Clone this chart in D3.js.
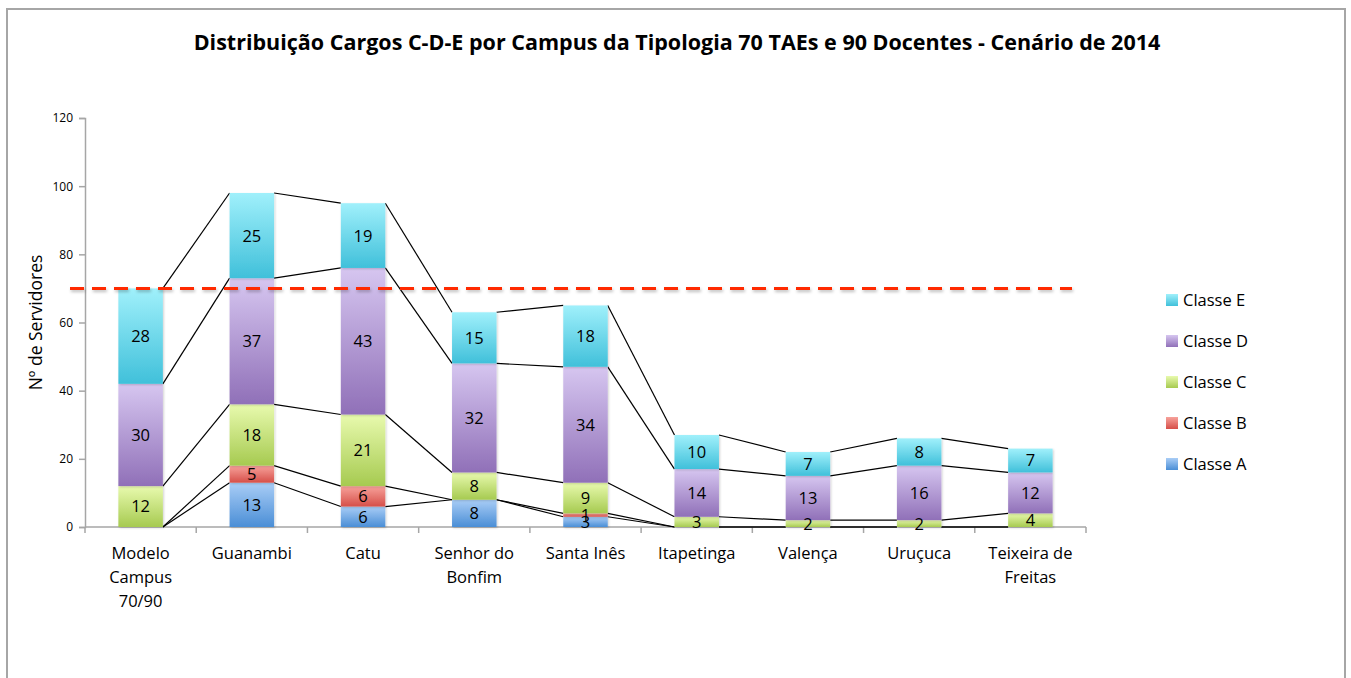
<!DOCTYPE html>
<html>
<head>
<meta charset="utf-8">
<script src="https://cdn.jsdelivr.net/npm/d3@7"></script>
<style>
  body { margin: 0; background: #fff; }
  svg { display: block; font-family: "Open Sans", sans-serif; }
</style>
</head>
<body>
<svg id="chart" width="1351" height="678"></svg>
<script>
const campus = ['Modelo Campus 70/90', 'Guanambi', 'Catu', 'Senhor do Bonfim', 'Santa Inês',
  'Itapetinga', 'Valença', 'Uruçuca', 'Teixeira de Freitas'];
const tickLines = [['Modelo', 'Campus', '70/90'], ['Guanambi'], ['Catu'], ['Senhor do', 'Bonfim'],
  ['Santa Inês'], ['Itapetinga'], ['Valença'], ['Uruçuca'], ['Teixeira de', 'Freitas']];

const seriesNames = ['Classe A', 'Classe B', 'Classe C', 'Classe D', 'Classe E'];
// null = empty cell (no label)
const classeA = [null, 13, 6, 8, 3, null, null, null, null];
const classeB = [null, 5, 6, null, 1, null, null, null, null];
const classeC = [12, 18, 21, 8, 9, 3, 2, 2, 4];
const classeD = [30, 37, 43, 32, 34, 14, 13, 16, 12];
const classeE = [28, 25, 19, 15, 18, 10, 7, 8, 7];
const yTicks = [0, 20, 40, 60, 80, 100, 120];
const referencia = 70;

const colors = {
  'Classe A': ['#a9cdf6', '#4a8ed6'],
  'Classe B': ['#f7a29b', '#d64f49'],
  'Classe C': ['#e8faae', '#a6ca50'],
  'Classe D': ['#d6c6f0', '#9070b8'],
  'Classe E': ['#a0f0fb', '#40c0da']
};

const svg = d3.select('#chart');
const margin = { left: 85, right: 265, top: 118, bottom: 151 };
const W = 1351, H = 678;

// frame
svg.append('path')
  .attr('d', `M7,${H} V9 H1345 V${H}`)
  .attr('fill', 'none')
  .attr('stroke', '#a6a6a6')
  .attr('stroke-width', 2);

svg.append('text')
  .attr('x', 677)
  .attr('y', 50)
  .attr('text-anchor', 'middle')
  .attr('font-weight', 'bold')
  .attr('font-size', 21.5)
  .attr('fill', '#000')
  .text('Distribuição Cargos C-D-E por Campus da Tipologia 70 TAEs e 90 Docentes - Cenário de 2014');

const x = d3.scaleBand()
  .domain(campus)
  .range([margin.left, W - margin.right])
  .paddingInner(0.6)
  .paddingOuter(0.3);

const y = d3.scaleLinear()
  .domain([0, 120])
  .range([H - margin.bottom, margin.top]);

const defs = svg.append('defs');
seriesNames.forEach((s, i) => {
  const g = defs.append('linearGradient')
    .attr('id', 'grad' + i)
    .attr('x1', 0).attr('y1', 0).attr('x2', 0).attr('y2', 1);
  g.append('stop').attr('offset', '0%').attr('stop-color', colors[s][0]);
  g.append('stop').attr('offset', '100%').attr('stop-color', colors[s][1]);
});
const shadow = defs.append('filter').attr('id', 'shadow')
  .attr('x', '-20%').attr('y', '-20%').attr('width', '140%').attr('height', '140%');
shadow.append('feDropShadow')
  .attr('dx', 1).attr('dy', 1).attr('stdDeviation', 1.2)
  .attr('flood-color', '#000').attr('flood-opacity', 0.18);
const lineShadow = defs.append('filter').attr('id', 'lineShadow')
  .attr('filterUnits', 'userSpaceOnUse')
  .attr('x', 0).attr('y', 0).attr('width', W).attr('height', H);
lineShadow.append('feDropShadow')
  .attr('dx', 1).attr('dy', 2).attr('stdDeviation', 1.5)
  .attr('flood-color', '#000').attr('flood-opacity', 0.25);

// axes
const yAxis = svg.append('g')
  .attr('transform', `translate(${margin.left},0)`)
  .call(d3.axisLeft(y).tickValues(yTicks).tickSize(6).tickPadding(6));
yAxis.select('.domain').attr('stroke', '#a6a6a6').attr('stroke-width', 1.5);
yAxis.selectAll('.tick line').attr('stroke', '#a6a6a6').attr('stroke-width', 1.5);
yAxis.selectAll('.tick text')
  .attr('font-size', 12).attr('fill', '#000')
  .attr('font-family', '"Open Sans", sans-serif');

const xAxisG = svg.append('g').attr('transform', `translate(0,${y(0)})`);
xAxisG.append('line')
  .attr('x1', margin.left).attr('x2', W - margin.right)
  .attr('stroke', '#a6a6a6').attr('stroke-width', 1.5);
const step = x.step();
xAxisG.selectAll('.xt')
  .data(d3.range(campus.length + 1))
  .join('line')
  .attr('x1', i => margin.left + i * step)
  .attr('x2', i => margin.left + i * step)
  .attr('y1', 0).attr('y2', 6)
  .attr('stroke', '#a6a6a6').attr('stroke-width', 1.5);
xAxisG.selectAll('.xl')
  .data(campus)
  .join('text')
  .attr('text-anchor', 'middle')
  .attr('font-size', 16.5)
  .attr('fill', '#000')
  .each(function (d, i) {
    const t = d3.select(this);
    tickLines[i].forEach((ln, k) => {
      t.append('tspan')
        .attr('x', x(d) + x.bandwidth() / 2)
        .attr('y', 32 + k * 24)
        .text(ln);
    });
  });

svg.append('text')
  .attr('transform', `translate(42,${y(60)}) rotate(-90)`)
  .attr('text-anchor', 'middle')
  .attr('font-size', 17.5)
  .attr('fill', '#000')
  .text('Nº de Servidores');

// stacks
const values = [classeA, classeB, classeC, classeD, classeE];
const table = campus.map((c, i) => {
  const row = { campus: c };
  seriesNames.forEach((s, k) => { row[s] = values[k][i] || 0; });
  return row;
});
const stacked = d3.stack().keys(seriesNames)(table);

// series lines
const lineG = svg.append('g');
stacked.forEach(layer => {
  for (let i = 0; i < layer.length - 1; i++) {
    lineG.append('line')
      .attr('x1', x(campus[i]) + x.bandwidth())
      .attr('y1', y(layer[i][1]))
      .attr('x2', x(campus[i + 1]))
      .attr('y2', y(layer[i + 1][1]))
      .attr('stroke', '#000')
      .attr('stroke-width', 1.2);
  }
});

const barsG = svg.append('g');
stacked.forEach((layer, k) => {
  barsG.append('g')
    .attr('fill', `url(#grad${k})`)
    .attr('filter', 'url(#shadow)')
    .selectAll('rect')
    .data(layer.filter(d => d[1] > d[0]))
    .join('rect')
    .attr('x', d => x(d.data.campus))
    .attr('y', d => y(d[1]))
    .attr('width', x.bandwidth())
    .attr('height', d => y(d[0]) - y(d[1]));
});

// reference line
svg.append('line')
  .attr('x1', margin.left - 15)
  .attr('x2', W - margin.right - 14)
  .attr('y1', y(referencia))
  .attr('y2', y(referencia))
  .attr('stroke', '#ff2a00')
  .attr('stroke-width', 3)
  .attr('stroke-dasharray', '14,8')
  .attr('filter', 'url(#lineShadow)');

// labels
const labelG = svg.append('g');
stacked.forEach((layer, k) => {
  labelG.selectAll(null)
    .data(layer.filter(d => values[k][campus.indexOf(d.data.campus)] != null))
    .join('text')
    .attr('x', d => x(d.data.campus) + x.bandwidth() / 2)
    .attr('y', d => (y(d[0]) + y(d[1])) / 2)
    .attr('dy', '0.36em')
    .attr('text-anchor', 'middle')
    .attr('font-size', 16.5)
    .attr('fill', '#000')
    .text(d => d[1] - d[0]);
});

// legend
const legend = svg.append('g').attr('transform', 'translate(1166,0)');
seriesNames.slice().reverse().forEach((s, i) => {
  const k = seriesNames.indexOf(s);
  const yy = 300 + i * 41;
  legend.append('rect')
    .attr('x', 0).attr('y', yy - 6)
    .attr('width', 12).attr('height', 12)
    .attr('fill', `url(#grad${k})`);
  legend.append('text')
    .attr('x', 17).attr('y', yy)
    .attr('dy', '0.36em')
    .attr('font-size', 16.5)
    .attr('fill', '#000')
    .text(s);
});
</script>
</body>
</html>
